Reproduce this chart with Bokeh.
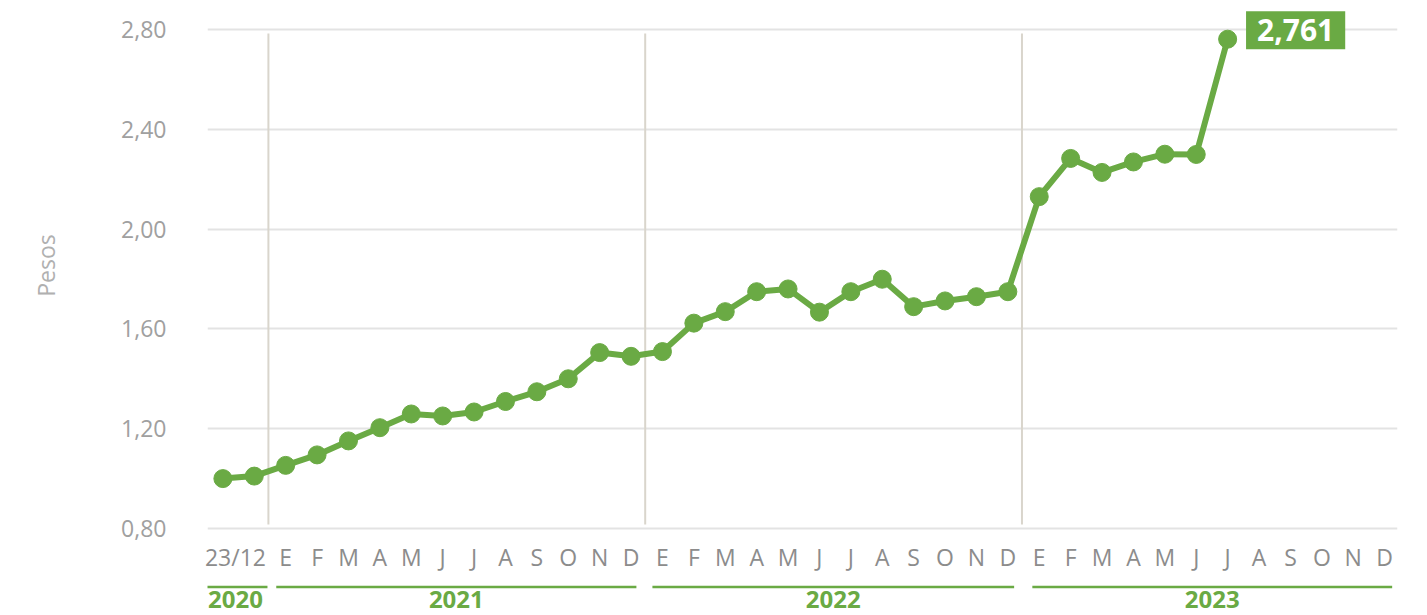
from bokeh.plotting import figure
from bokeh.models import Range1d, FixedTicker, Label
from bokeh.layouts import column
from bokeh.embed import file_html
from bokeh.resources import INLINE
from bokeh.core.properties import value

# ---------------- data ----------------
months = ["E", "F", "M", "A", "M", "J", "J", "A", "S", "O", "N", "D"]
years = ["2020", "2021", "2022", "2023"]
first_label = "23/12"

values_2020 = [1.000, 1.010]
values_2021 = [1.053, 1.095, 1.151, 1.204, 1.259, 1.251, 1.267, 1.309, 1.348, 1.400, 1.505, 1.490]
values_2022 = [1.509, 1.623, 1.669, 1.749, 1.760, 1.667, 1.749, 1.799, 1.689, 1.712, 1.729, 1.749]
values_2023 = [2.130, 2.283, 2.227, 2.269, 2.300, 2.299, 2.761]

y_ticks = [0.80, 1.20, 1.60, 2.00, 2.40, 2.80]
y_tick_labels = ["0,80", "1,20", "1,60", "2,00", "2,40", "2,80"]
last_value_label = "2,761"
y_title = "Pesos"

# ---------------- derived ----------------
values = values_2020 + values_2021 + values_2022 + values_2023
xs = list(range(len(values)))
x_tick_pos = [0.4] + list(range(2, 2 + 36))
x_tick_labels = [first_label] + months * 3
year_start = [-0.62, 1.70, 13.68, 25.78]
year_end = [1.42, 13.17, 25.20, 37.24]
year_center = [(a + b) / 2 for a, b in zip(year_start, year_end)]
sep_x = [1.45, 13.45, 25.45]

GREEN = "#6aaa44"
FONT = "Open Sans"
W = 1427

p = figure(width=W, height=575, x_range=Range1d(-0.49, 37.41), y_range=Range1d(0.792, 2.916),
           output_backend="svg", toolbar_location=None,
           min_border_left=207, min_border_right=30, min_border_top=0, min_border_bottom=30)
p.outline_line_color = None
p.background_fill_color = "white"
p.xgrid.visible = False
p.ygrid.ticker = FixedTicker(ticks=y_ticks)
p.ygrid.grid_line_color = "#e3e3e3"
p.ygrid.grid_line_width = 2

yax = p.yaxis[0]
yax.ticker = FixedTicker(ticks=y_ticks)
yax.major_label_overrides = {t: l for t, l in zip(y_ticks, y_tick_labels)}
yax.axis_line_color = None
yax.major_tick_line_color = None
yax.minor_tick_line_color = None
yax.major_label_standoff = 35
yax.major_label_text_font = FONT
yax.major_label_text_font_size = "23px"
yax.major_label_text_color = "#a0a0a0"
yax.axis_label = y_title
yax.axis_label_text_font = FONT
yax.axis_label_text_font_style = "normal"
yax.axis_label_text_font_size = "23px"
yax.axis_label_text_color = "#b0b0b0"
yax.axis_label_standoff = 56

xax = p.xaxis[0]
xax.ticker = FixedTicker(ticks=x_tick_pos)
xax.major_label_overrides = {t: l for t, l in zip(x_tick_pos, x_tick_labels)}
xax.axis_line_color = None
xax.major_tick_line_color = None
xax.minor_tick_line_color = None
xax.major_label_standoff = 4
xax.major_label_text_font = FONT
xax.major_label_text_font_size = "23px"
xax.major_label_text_color = "#8c8c8c"

p.segment(x0=sep_x, y0=[0.816] * 3, x1=sep_x, y1=[2.784] * 3, line_color="#d9d5cc", line_width=2)
p.line(xs, values, line_color=GREEN, line_width=6)
p.scatter(xs, values, size=18, color=GREEN)

lab = Label(x=xs[-1], y=values[-1], text=last_value_label, x_offset=68, y_offset=9,
            text_align="center", text_baseline="middle", text_font=FONT, text_font_style="bold",
            text_font_size="30px", text_color="white", background_fill_color=GREEN,
            padding=dict(left=11, right=11, top=8, bottom=8))
p.add_layout(lab)

q = figure(width=W, height=40, x_range=p.x_range, y_range=Range1d(0, 40),
           output_backend="svg", toolbar_location=None,
           x_axis_location=None, y_axis_location=None,
           min_border_left=207, min_border_right=30, min_border_top=0, min_border_bottom=0)
q.outline_line_color = None
q.xgrid.visible = False
q.ygrid.visible = False
q.segment(x0=year_start, y0=[28.5] * 4, x1=year_end, y1=[28.5] * 4, line_color=GREEN, line_width=2.5)
q.text(x=year_center, y=[16] * 4, text=years, text_font=value(FONT), text_font_style="bold",
       text_font_size="24px", text_align="center", text_baseline="middle", text_color=GREEN)

layout = column(p, q, spacing=0)
open("out.html", "w").write(file_html(layout, INLINE))
